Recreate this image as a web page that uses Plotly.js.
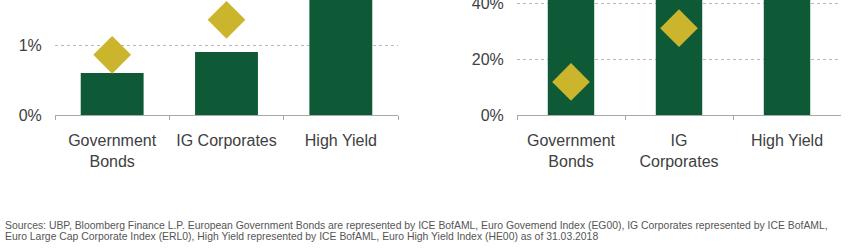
<!DOCTYPE html>
<html>
<head>
<meta charset="utf-8">
<script src="https://cdn.plot.ly/plotly-3.0.1.min.js"></script>
<style>
html,body{margin:0;padding:0;background:#fff;}
#chart{width:850px;height:249px;}
</style>
</head>
<body>
<div id="chart"></div>
<script>
// Data
var categoriesLeft = ["Government<br>Bonds", "IG Corporates", "High Yield"];
var categoriesRight = ["Government<br>Bonds", "IG<br>Corporates", "High Yield"];
var barsLeft = [0.6, 0.9, 2.4];        // % (High Yield bar extends beyond visible area)
var diamondsLeft = [0.86, 1.36, null];  // %
var barsRight = [60, 65, 70];           // % (all bars extend beyond visible area)
var diamondsRight = [11.8, 31, null];   // %
var footnoteLine1 = "Sources: UBP, Bloomberg Finance L.P. European Government Bonds are represented by ICE BofAML, Euro Govemend Index (EG00), IG Corporates represented by ICE BofAML,";
var footnoteLine2 = "Euro Large Cap Corporate Index (ERL0), High Yield represented by ICE BofAML, Euro High Yield Index (HE00) as of 31.03.2018";

var green = "#0f5a36";
var gold = "#cbb52c";
var textCol = "#404040";
var font = "Liberation Sans, Arial, sans-serif";

var traces = [
  {type:"bar", x:categoriesLeft, y:barsLeft, xaxis:"x", yaxis:"y", width:0.55, marker:{color:green}, hoverinfo:"none"},
  {type:"scatter", mode:"markers", x:categoriesLeft, y:diamondsLeft, xaxis:"x", yaxis:"y",
   marker:{symbol:"diamond", size:29, color:gold}, hoverinfo:"none"},
  {type:"bar", x:categoriesRight, y:barsRight, xaxis:"x2", yaxis:"y2", width:0.43, marker:{color:green}, hoverinfo:"none"},
  {type:"scatter", mode:"markers", x:categoriesRight, y:diamondsRight, xaxis:"x2", yaxis:"y2",
   marker:{symbol:"diamond", size:29, color:gold}, hoverinfo:"none"}
];

var xBase = {
  type:"category", showline:true, linecolor:"#a8a8a8", linewidth:1,
  ticks:"outside", tickson:"boundaries", ticklen:4, tickcolor:"#a8a8a8",
  ticklabelstandoff:11,
  tickfont:{family:font, size:16, color:textCol},
  showgrid:false, zeroline:false, fixedrange:true
};
var yBase = {
  showline:false, zeroline:false, showgrid:true,
  gridcolor:"#b8b8b8", griddash:"dot", gridwidth:1,
  ticks:"outside", ticklen:9, tickcolor:"rgba(0,0,0,0)",
  ticklabeloverflow:"allow",
  ticksuffix:"%", tickfont:{family:font, size:16, color:textCol},
  fixedrange:true
};

var layout = {
  width:850, height:249,
  margin:{l:0, r:0, t:0, b:0},
  paper_bgcolor:"#ffffff", plot_bgcolor:"#ffffff",
  showlegend:false,
  xaxis:Object.assign({}, xBase, {domain:[55/850, 398/850], anchor:"y"}),
  yaxis:Object.assign({}, yBase, {domain:[134/249, 1], range:[0, 1.643], dtick:1, anchor:"x"}),
  xaxis2:Object.assign({}, xBase, {domain:[517/850, 841/850], anchor:"y2"}),
  yaxis2:Object.assign({}, yBase, {domain:[134/249, 1], range:[0, 41.07], dtick:20, anchor:"x2"}),
  annotations:[
    {text:footnoteLine1, xref:"paper", yref:"paper", x:3/850, y:1-225/249,
     xanchor:"left", yanchor:"middle", align:"left", showarrow:false,
     font:{family:font, size:10.4, color:"#555555"}},
    {text:footnoteLine2, xref:"paper", yref:"paper", x:3/850, y:1-236.5/249,
     xanchor:"left", yanchor:"middle", align:"left", showarrow:false,
     font:{family:font, size:10.4, color:"#555555"}}
  ]
};

Plotly.newPlot("chart", traces, layout, {staticPlot:true, displayModeBar:false});
</script>
</body>
</html>
